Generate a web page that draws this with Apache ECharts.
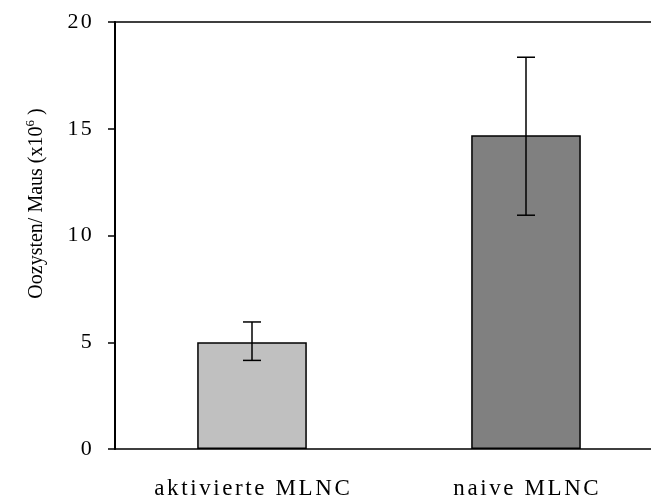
<!DOCTYPE html>
<html><head><meta charset="utf-8">
<script src="https://cdn.jsdelivr.net/npm/echarts@6/dist/echarts.min.js"></script>
<style>html,body{margin:0;padding:0;background:#fff}#c{width:651px;height:498px}</style>
</head><body><div id="c"></div>
<script>
const categories = ['aktivierte MLNC', 'naive MLNC'];
const values = [5.0, 14.7];
const errLow = [4.15, 10.95];
const errHigh = [5.95, 18.35];
const barColors = ['#C0C0C0', '#808080'];
const yTicks = [0, 5, 10, 15, 20];

const FONT = '"Liberation Serif", "Times New Roman", serif';
function spaced(s) {
  return s.split('').map(ch => '{s|' + ch + '}').join('');
}
const chart = echarts.init(document.getElementById('c'), null, {renderer: 'canvas'});
chart.setOption({
  animation: false,
  backgroundColor: '#fff',
  grid: {left: 115, top: 22, width: 548, height: 427, containLabel: false, outerBoundsMode: 'none'},
  xAxis: [{
    type: 'category', data: categories,
    axisLine: {lineStyle: {color: '#000', width: 1.5}},
    axisTick: {show: false},
    axisLabel: {
      interval: 0, hideOverlap: false,
      color: '#000', fontFamily: FONT, fontSize: 23, margin: 28,
      formatter: v => spaced(v),
      rich: {s: {fontFamily: FONT, fontSize: 23, color: '#000', padding: [0, 1.3, 0, 1.3]}}
    }
  }, {
    type: 'category', data: categories, position: 'top',
    axisLine: {show: true, onZero: false, lineStyle: {color: '#000', width: 1.5}},
    axisTick: {show: false}, axisLabel: {show: false}
  }],
  yAxis: {
    type: 'value', min: yTicks[0], max: yTicks[yTicks.length - 1], interval: 5,
    axisLine: {show: true, lineStyle: {color: '#000', width: 2}},
    axisTick: {show: true, length: 7, lineStyle: {color: '#000', width: 1.5}},
    splitLine: {show: false},
    axisLabel: {
      color: '#000', fontFamily: FONT, fontSize: 22, margin: 22,
      formatter: v => spaced(String(v)),
      rich: {s: {fontFamily: FONT, fontSize: 22, color: '#000', padding: [0, 1.2, 0, 1.2]}}
    },
    name: 'Oozysten/ Maus (x10{sup|6} )',
    nameLocation: 'middle', nameRotate: 90, nameGap: 66,
    nameTextStyle: {
      color: '#000', fontFamily: FONT, fontSize: 20, padding: [0, 0, 0, 64],
      rich: {sup: {fontSize: 13, fontFamily: FONT, color: '#000', padding: [0, 0, 12, 0]}}
    }
  },
  series: [{
    type: 'bar', barWidth: '40%',
    data: values.map((v, i) => ({value: v, itemStyle: {color: barColors[i]}})),
    itemStyle: {borderColor: '#000', borderWidth: 1.5}
  }, {
    type: 'custom',
    data: values.map((v, i) => [i, errLow[i], errHigh[i]]),
    renderItem: function (params, api) {
      const lo = api.coord([api.value(0), api.value(1)]);
      const hi = api.coord([api.value(0), api.value(2)]);
      const w = 9;
      const st = {stroke: '#000', lineWidth: 1.5};
      return {type: 'group', children: [
        {type: 'line', shape: {x1: lo[0], y1: lo[1], x2: hi[0], y2: hi[1]}, style: st},
        {type: 'line', shape: {x1: lo[0] - w, y1: lo[1], x2: lo[0] + w, y2: lo[1]}, style: st},
        {type: 'line', shape: {x1: hi[0] - w, y1: hi[1], x2: hi[0] + w, y2: hi[1]}, style: st}
      ]};
    },
    z: 10
  }]
});
</script></body></html>
